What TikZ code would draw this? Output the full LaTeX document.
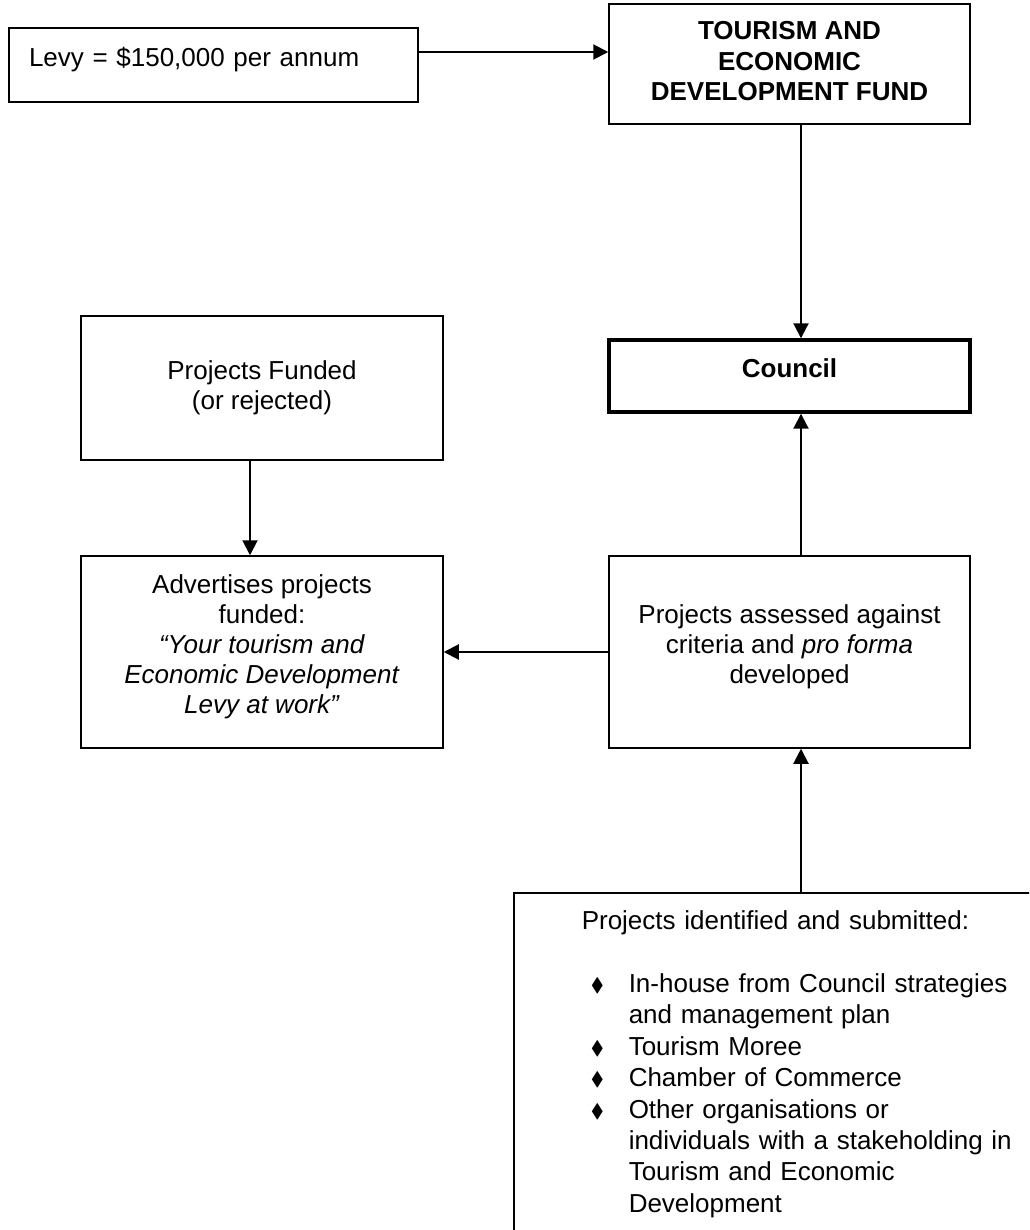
\documentclass[tikz,border=0pt]{standalone}
\usepackage{amssymb}
\usepackage{fontspec}
\setmainfont{Liberation Sans}
\usetikzlibrary{arrows.meta,positioning}
\tikzset{font=\fontsize{13pt}{15pt}\selectfont}
\tikzset{box/.style={draw, line width=0.75pt, align=center, inner sep=0pt}}
\tikzset{boldtext/.style={font=\fontsize{13pt}{15.25pt}\selectfont\bfseries}}
\tikzset{flow/.style={line width=1pt, -{Triangle[length=7.5pt,width=7.5pt]}}}
\newcommand{\diam}{\raisebox{0.5pt}{\scalebox{0.75}{$\blacklozenge$}}}

\begin{document}
\begin{tikzpicture}[x=0.5pt,y=-0.5pt]
  \useasboundingbox (0,0) rectangle (1029,1230);
  \clip (0,0) rectangle (1029,1230);
  \coordinate (spine) at (801,0);
  \coordinate (leftline) at (250,0);
  \coordinate (levyline) at (0,52);

  \node[box, align=left, text width=184.5pt, inner xsep=10pt,
    minimum height=37pt, text depth=8pt] (levy) at (213.5,65)
    {Levy = \$150,000 per annum};
  \node[box, boldtext, minimum width=180.5pt, minimum height=60pt,
    text depth=3pt] (fund) at (789.5,64)
    {TOURISM AND\\ECONOMIC\\DEVELOPMENT FUND};
  \node[box, boldtext, line width=1.7pt, minimum width=180.5pt,
    minimum height=36pt, text depth=8pt] (council) at (789.5,376) {Council};
  \node[box, minimum width=181pt, minimum height=72pt] (funded) at (262,388)
    {Projects Funded\\(or rejected)};
  \node[box, minimum width=181pt, minimum height=96pt, text depth=8pt]
    (advert) at (262,652)
    {Advertises projects\\funded:\\\textit{“Your tourism and}\\
     \textit{Economic Development}\\\textit{Levy at work”}};
  \node[box, minimum width=180.5pt, minimum height=96pt, text depth=8pt]
    (assess) at (789.5,652)
    {Projects assessed against\\criteria and \textit{pro forma}\\developed};
  \node[box, anchor=north west, align=left, text width=260pt,
    inner xsep=34pt, inner ysep=9pt, text depth=200pt,
    font=\fontsize{13pt}{15.7pt}\selectfont] (submit) at (513,892)
    {Projects identified and submitted:\\[15.7pt]
     \hspace*{4.5pt}\makebox[19pt][l]{\diam}In-house from Council strategies\\
     \hspace*{23.5pt}and management plan\\
     \hspace*{4.5pt}\makebox[19pt][l]{\diam}Tourism Moree\\
     \hspace*{4.5pt}\makebox[19pt][l]{\diam}Chamber of Commerce\\
     \hspace*{4.5pt}\makebox[19pt][l]{\diam}Other organisations or\\
     \hspace*{23.5pt}individuals with a stakeholding in\\
     \hspace*{23.5pt}Tourism and Economic\\
     \hspace*{23.5pt}Development};

  \draw[flow] (levy.east |- levyline) -- (fund.west |- levyline);
  \draw[flow] (fund.south -| spine) -- (council.north -| spine);
  \draw[flow] (assess.north -| spine) -- (council.south -| spine);
  \draw[flow] (submit.north -| spine) -- (assess.south -| spine);
  \draw[flow] (funded.south -| leftline) -- (advert.north -| leftline);
  \draw[flow] (assess.west) -- (advert.east);
\end{tikzpicture}
\end{document}
